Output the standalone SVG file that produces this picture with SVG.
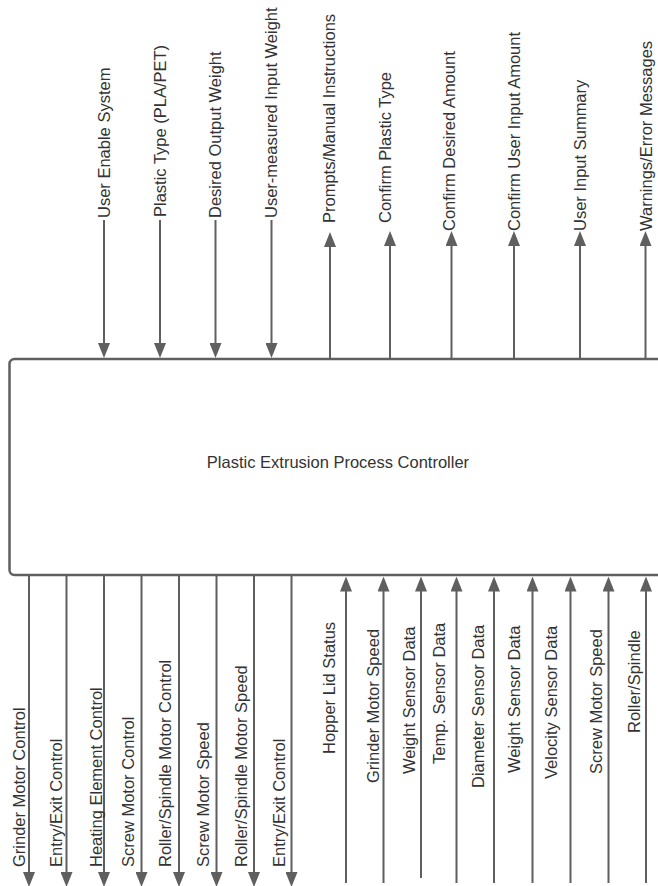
<svg xmlns="http://www.w3.org/2000/svg" width="658" height="886" viewBox="0 0 658 886">
  <style>
    .box { fill: #ffffff; stroke: #5f5f5f; stroke-width: 2.5; }
    .wire { stroke: #5f5f5f; stroke-width: 2; fill: none; marker-end: url(#arrow); }
    .title { font-family: "Liberation Sans", Arial, sans-serif; font-size: 16.5px; fill: #333333; text-anchor: middle; }
    .lbl { font-family: "Liberation Sans", Arial, sans-serif; font-size: 16.5px; fill: #333333; text-anchor: start; dominant-baseline: central; }
  </style>
  <defs>
    <marker id="arrow" markerUnits="userSpaceOnUse" viewBox="0 0 15 12" markerWidth="15" markerHeight="12" refX="10" refY="6" orient="auto">
      <path d="M0,0 L15,6 L0,12 z" fill="#5f5f5f"/>
    </marker>
  </defs>

  <rect width="658" height="886" fill="#ffffff"/>

  <!-- Controller block (runs past the right edge) -->
  <g id="controller">
    <rect class="box" x="9.5" y="359" width="657" height="216" rx="5" ry="5"/>
    <text class="title" x="338" y="468.3">Plastic Extrusion Process Controller</text>
  </g>

  <g id="connectors">
    <!-- user inputs entering from the top -->
    <g id="in-user-enable"><line class="wire" x1="104" y1="220" x2="104" y2="353"/>
      <text class="lbl" transform="translate(104,218) rotate(-90)">User Enable System</text></g>
    <g id="in-plastic-type"><line class="wire" x1="160" y1="220" x2="160" y2="353"/>
      <text class="lbl" transform="translate(160,217) rotate(-90)">Plastic Type (PLA/PET)</text></g>
    <g id="in-desired-weight"><line class="wire" x1="215.5" y1="220" x2="215.5" y2="353"/>
      <text class="lbl" transform="translate(214.5,218) rotate(-90)">Desired Output Weight</text></g>
    <g id="in-input-weight"><line class="wire" x1="271.5" y1="220" x2="271.5" y2="353"/>
      <text class="lbl" transform="translate(271,218) rotate(-90)">User-measured Input Weight</text></g>

    <!-- outputs leaving through the top -->
    <g id="out-prompts"><line class="wire" x1="330" y1="359" x2="330" y2="237"/>
      <text class="lbl" transform="translate(328.5,223) rotate(-90)">Prompts/Manual Instructions</text></g>
    <g id="out-confirm-type"><line class="wire" x1="390" y1="359" x2="390" y2="236"/>
      <text class="lbl" transform="translate(384.5,223) rotate(-90)">Confirm Plastic Type</text></g>
    <g id="out-confirm-desired"><line class="wire" x1="451.5" y1="359" x2="451.5" y2="236"/>
      <text class="lbl" transform="translate(449,231) rotate(-90)">Confirm Desired Amount</text></g>
    <g id="out-confirm-input"><line class="wire" x1="514" y1="359" x2="514" y2="236"/>
      <text class="lbl" transform="translate(514,231) rotate(-90)">Confirm User Input Amount</text></g>
    <g id="out-summary"><line class="wire" x1="580" y1="359" x2="580" y2="236"/>
      <text class="lbl" transform="translate(579.5,231) rotate(-90)">User Input Summary</text></g>
    <g id="out-warnings"><line class="wire" x1="645.5" y1="359" x2="645.5" y2="236"/>
      <text class="lbl" transform="translate(646,231) rotate(-90)">Warnings/Error Messages</text></g>

    <!-- control outputs leaving through the bottom -->
    <g id="out-grinder"><line class="wire" x1="29" y1="575" x2="29" y2="882"/>
      <text class="lbl" transform="translate(19.2,867) rotate(-90)">Grinder Motor Control</text></g>
    <g id="out-entry-exit-1"><line class="wire" x1="66.5" y1="575" x2="66.5" y2="882"/>
      <text class="lbl" transform="translate(56,867) rotate(-90)">Entry/Exit Control</text></g>
    <g id="out-heater"><line class="wire" x1="104" y1="575" x2="104" y2="882"/>
      <text class="lbl" transform="translate(96,867) rotate(-90)">Heating Element Control</text></g>
    <g id="out-screw"><line class="wire" x1="141.5" y1="575" x2="141.5" y2="882"/>
      <text class="lbl" transform="translate(127.6,867) rotate(-90)">Screw Motor Control</text></g>
    <g id="out-roller"><line class="wire" x1="179" y1="575" x2="179" y2="882"/>
      <text class="lbl" transform="translate(164.5,867) rotate(-90)">Roller/Spindle Motor Control</text></g>
    <g id="out-screw-speed"><line class="wire" x1="216.5" y1="575" x2="216.5" y2="882"/>
      <text class="lbl" transform="translate(202.6,867) rotate(-90)">Screw Motor Speed</text></g>
    <g id="out-roller-speed"><line class="wire" x1="254" y1="575" x2="254" y2="882"/>
      <text class="lbl" transform="translate(241,867) rotate(-90)">Roller/Spindle Motor Speed</text></g>
    <g id="out-entry-exit-2"><line class="wire" x1="291.5" y1="575" x2="291.5" y2="882"/>
      <text class="lbl" transform="translate(279.2,867) rotate(-90)">Entry/Exit Control</text></g>

    <!-- sensor feedback entering from the bottom -->
    <g id="in-hopper"><line class="wire" x1="346" y1="883" x2="346" y2="581.5"/>
      <text class="lbl" transform="translate(329.2,754) rotate(-90)">Hopper Lid Status</text></g>
    <g id="in-grinder-speed"><line class="wire" x1="383.5" y1="883" x2="383.5" y2="581.5"/>
      <text class="lbl" transform="translate(372.6,783) rotate(-90)">Grinder Motor Speed</text></g>
    <g id="in-weight-1"><line class="wire" x1="421" y1="878" x2="421" y2="581.5"/>
      <text class="lbl" transform="translate(409.2,774) rotate(-90)">Weight Sensor Data</text></g>
    <g id="in-temp"><line class="wire" x1="456.5" y1="883" x2="456.5" y2="581.5"/>
      <text class="lbl" transform="translate(439.2,764) rotate(-90)">Temp. Sensor Data</text></g>
    <g id="in-diameter"><line class="wire" x1="494" y1="883" x2="494" y2="581.5"/>
      <text class="lbl" transform="translate(477.6,788) rotate(-90)">Diameter Sensor Data</text></g>
    <g id="in-weight-2"><line class="wire" x1="532.5" y1="883" x2="532.5" y2="581.5"/>
      <text class="lbl" transform="translate(514.2,773) rotate(-90)">Weight Sensor Data</text></g>
    <g id="in-velocity"><line class="wire" x1="570.5" y1="883" x2="570.5" y2="581.5"/>
      <text class="lbl" transform="translate(550.9,779) rotate(-90)">Velocity Sensor Data</text></g>
    <g id="in-screw-speed"><line class="wire" x1="608.5" y1="883" x2="608.5" y2="581.5"/>
      <text class="lbl" transform="translate(595.9,774) rotate(-90)">Screw Motor Speed</text></g>
    <g id="in-roller"><line class="wire" x1="646" y1="883" x2="646" y2="581.5"/>
      <text class="lbl" transform="translate(634.2,733) rotate(-90)">Roller/Spindle</text></g>
  </g>
</svg>
